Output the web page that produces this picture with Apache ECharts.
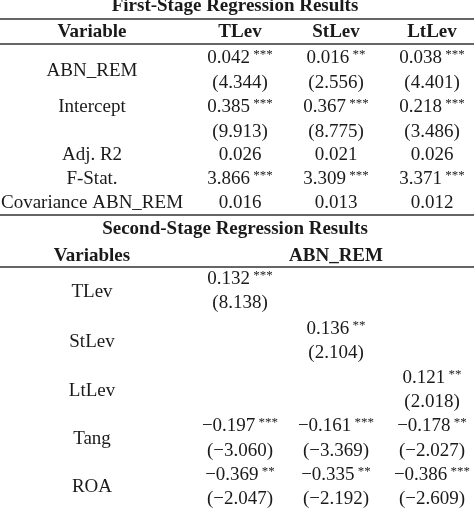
<!DOCTYPE html>
<html>
<head>
<meta charset="utf-8">
<script src="https://cdn.jsdelivr.net/npm/echarts@6/dist/echarts.min.js"></script>
<style>html,body{margin:0;padding:0;background:#fff}#chart{width:474px;height:510px}</style>
</head>
<body>
<div id="chart"></div>
<script>
// first stage
const models = ['TLev', 'StLev', 'LtLev'];
const abnCoef = [0.042, 0.016, 0.038];
const abnStars = ['***', '**', '***'];
const abnT = [4.344, 2.556, 4.401];
const interCoef = [0.385, 0.367, 0.218];
const interStars = ['***', '***', '***'];
const interT = [9.913, 8.775, 3.486];
const adjR2 = [0.026, 0.021, 0.026];
const fStat = [3.866, 3.309, 3.371];
const fStars = ['***', '***', '***'];
const covAbn = [0.016, 0.013, 0.012];
// second stage: leverage variables sit on the diagonal
const levCoef = [0.132, 0.136, 0.121];
const levStars = ['***', '**', '**'];
const levT = [8.138, 2.104, 2.018];
const tangCoef = [-0.197, -0.161, -0.178];
const tangStars = ['***', '***', '**'];
const tangT = [-3.060, -3.369, -2.027];
const roaCoef = [-0.369, -0.335, -0.386];
const roaStars = ['**', '**', '***'];
const roaT = [-2.047, -2.192, -2.609];

const FONT = '"Liberation Serif", "DejaVu Serif", serif';
const colX = [240, 336, 432];
const labelX = 92;

function fmt(v) { return (v < 0 ? '\u2212' : '') + Math.abs(v).toFixed(3); }

let els = [];
function txt(x, y, s, bold, size) {
  els.push({ type: 'text', x: x, y: y, style: {
    text: s, font: (bold ? 'bold ' : '') + (size || 19) + 'px ' + FONT,
    fill: '#1a1a1a', align: 'center', verticalAlign: 'middle' } });
}
function coef(x, y, v, st) {
  els.push({ type: 'text', x: x, y: y, style: {
    text: '{n|' + fmt(v) + '}' + (st ? '{s| ' + st + '}' : ''),
    align: 'center', verticalAlign: 'middle', fill: '#1a1a1a',
    rich: { n: { font: '19px ' + FONT, fill: '#1a1a1a' },
            s: { font: '13px ' + FONT, fill: '#1a1a1a', verticalAlign: 'top', padding: [0, 0, 6, 0] } } } });
}
function tstat(x, y, v) { txt(x, y, '(' + fmt(v) + ')'); }
function rule(y) {
  els.push({ type: 'line', shape: { x1: 0, y1: y, x2: 474, y2: y }, style: { stroke: '#666', lineWidth: 2 } });
}

txt(235, 6, 'First-Stage Regression Results', true);
rule(19);
txt(labelX, 32, 'Variable', true);
models.forEach((m, i) => txt(colX[i], 32, m, true));
rule(44);
txt(labelX, 71, 'ABN_REM');
txt(labelX, 107, 'Intercept');
txt(labelX, 155, 'Adj. R2');
txt(labelX, 179, 'F-Stat.');
txt(labelX, 203, 'Covariance ABN_REM');
models.forEach((m, i) => {
  coef(colX[i], 58, abnCoef[i], abnStars[i]);
  tstat(colX[i], 83, abnT[i]);
  coef(colX[i], 107, interCoef[i], interStars[i]);
  tstat(colX[i], 132, interT[i]);
  txt(colX[i], 155, adjR2[i].toFixed(3));
  coef(colX[i], 179, fStat[i], fStars[i]);
  txt(colX[i], 203, covAbn[i].toFixed(3));
});
rule(215);
txt(235, 229, 'Second-Stage Regression Results', true);
txt(labelX, 256, 'Variables', true);
txt(colX[1], 256, 'ABN_REM', true);
rule(267);
const rowsY = [279, 329, 378];
models.forEach((m, i) => {
  txt(labelX, rowsY[i] + 13, m);
  coef(colX[i], rowsY[i], levCoef[i], levStars[i]);
  tstat(colX[i], rowsY[i] + 24, levT[i]);
});
txt(labelX, 439, 'Tang');
txt(labelX, 487, 'ROA');
models.forEach((m, i) => {
  coef(colX[i], 426, tangCoef[i], tangStars[i]);
  tstat(colX[i], 451, tangT[i]);
  coef(colX[i], 475, roaCoef[i], roaStars[i]);
  tstat(colX[i], 499, roaT[i]);
});

const chart = echarts.init(document.getElementById('chart'));
chart.setOption({ animation: false, graphic: { elements: els } });
</script>
</body>
</html>
